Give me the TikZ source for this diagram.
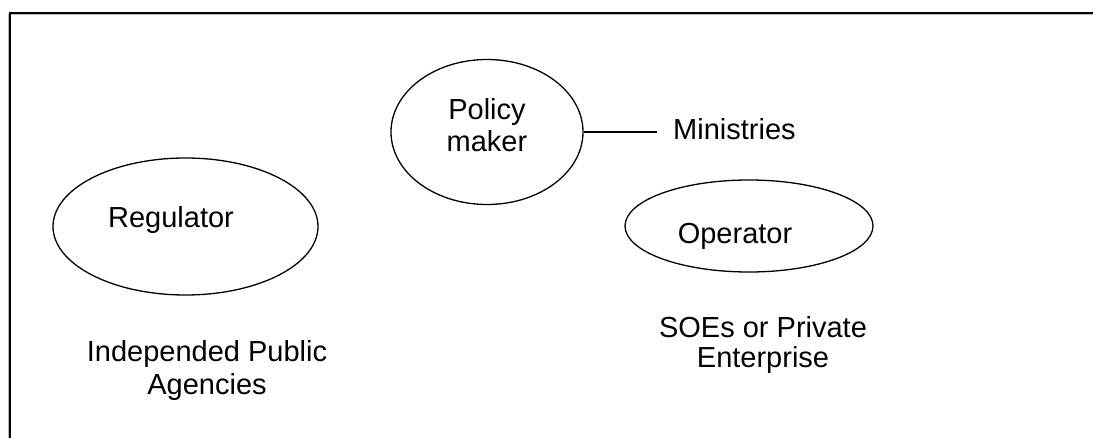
\documentclass[tikz,border=0pt]{standalone}
\usepackage{fontspec}
\setmainfont{Liberation Sans}
\usetikzlibrary{shapes.geometric}
\begin{document}
\begin{tikzpicture}[x=1pt,y=1pt,
  oval/.style={draw, ellipse, line width=1.3pt, inner sep=0pt},
  txt/.style={anchor=base, inner sep=0pt, font=\fontsize{29}{33}\selectfont},
  frameline/.style={line width=2pt, line cap=rect},
  shadowline/.style={line width=1pt, gray!55}]
\useasboundingbox (0,0) rectangle (1093,-438);
% frame (open to the right and bottom)
\draw[shadowline] (8.5,-438) -- (8.5,-15) -- (1093,-15);
\draw[frameline] (10,-438) -- (10,-13.3) -- (1093,-13.3);
% ellipses
\node[oval, minimum width=192pt, minimum height=145pt] (pm) at (487,-132) {};
\node[oval, minimum width=265pt, minimum height=137pt] (reg) at (185.5,-226.5) {};
\node[oval, minimum width=248pt, minimum height=92pt] (op) at (749,-226) {};
% texts inside
\node[txt] (pm1) at (487,-120) {Policy};
\node[txt] (pm2) at (487,-152) {maker};
\node[txt] (regt) at (171,-228) {Regulator};
\node[txt] (opt) at (735,-244) {Operator};
% ministries
\node[txt, anchor=base west] (min) at (673,-140) {Ministries};
\coordinate (mend) at (657,-132);
\draw[line width=1.3pt] (pm) -- (mend);
% labels below
\node[txt] (ipa1) at (207,-362) {Independed Public};
\node[txt] (ipa2) at (207,-395) {Agencies};
\node[txt] (soe1) at (763,-338) {SOEs or Private};
\node[txt] (soe2) at (763,-368) {Enterprise};
\end{tikzpicture}
\end{document}
